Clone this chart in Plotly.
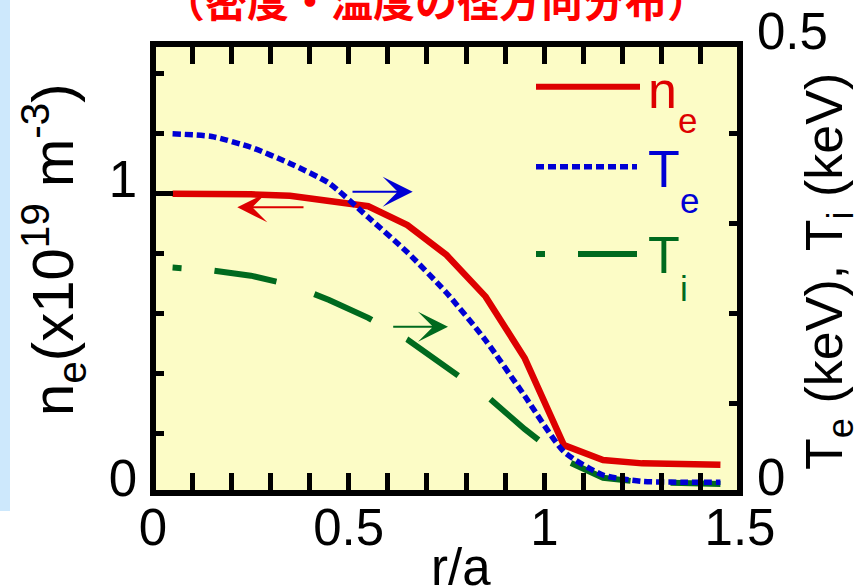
import plotly.graph_objects as go

# Radial profiles (r/a) of electron density and temperatures
r_a = [0.05, 0.15, 0.25, 0.35, 0.45, 0.55, 0.65, 0.75, 0.85, 0.95, 1.05, 1.15, 1.25, 1.35, 1.45]
n_e = [1.000, 1.000, 0.998, 0.993, 0.978, 0.958, 0.895, 0.795, 0.656, 0.450, 0.160, 0.110, 0.099, 0.096, 0.094]
T_e = [0.400, 0.397, 0.385, 0.367, 0.345, 0.307, 0.268, 0.223, 0.170, 0.108, 0.046, 0.020, 0.013, 0.012, 0.012]
T_i = [0.251, 0.248, 0.242, 0.232, 0.215, 0.195, 0.171, 0.141, 0.109, 0.071, 0.037, 0.017, 0.012, 0.011, 0.010]

T_ticks = [0, 0.5]
T_tick_text = ["0", "0.5"]

RED = "#dd0000"
BLUE = "#0000d4"
GREEN = "#006a1e"
BG = "#fcfcc6"
FONT = "Liberation Sans, Arial, sans-serif"
TI_DASH = "9px,33px" + ",63px,40px" * 8
TE_DASH = "8px,4px"

W, H = 868, 587
L, R, T, B = 153, 128, 44, 94


def px(xp):
    return (xp - L) / (W - L - R)


def py(yp):
    return (H - B - yp) / (H - T - B)


fig = go.Figure()
fig.add_trace(go.Scatter(x=r_a, y=n_e, mode="lines", yaxis="y",
                         line=dict(color=RED, width=6.5)))
fig.add_trace(go.Scatter(x=r_a, y=T_i, mode="lines", yaxis="y2",
                         line=dict(color=GREEN, width=6, dash=TI_DASH)))
fig.add_trace(go.Scatter(x=r_a, y=T_e, mode="lines", yaxis="y2",
                         line=dict(color=BLUE, width=5.5, dash=TE_DASH, shape="spline", smoothing=0.6)))

tickfont = dict(family=FONT, size=51, color="black")
minor_common = dict(ticks="inside", ticklen=11, tickwidth=5, tickcolor="black", showgrid=False)

shapes = [
    # frame
    dict(type="rect", xref="paper", yref="paper", x0=0, x1=1, y0=0, y1=1,
         line=dict(color="black", width=6), layer="above"),
    # left edge strip
    dict(type="rect", xref="paper", yref="paper", x0=px(0), x1=px(10), y0=py(0), y1=py(511),
         line=dict(width=0), fillcolor="#cde8fc", layer="below"),
    # legend samples
    dict(type="line", xref="paper", yref="paper", x0=px(536), x1=px(640), y0=py(86.7), y1=py(86.7),
         line=dict(color=RED, width=6)),
    dict(type="line", xref="paper", yref="paper", x0=px(536), x1=px(637), y0=py(166.7), y1=py(166.7),
         line=dict(color=BLUE, width=5.5, dash=TE_DASH)),
    dict(type="line", xref="paper", yref="paper", x0=px(536), x1=px(637), y0=py(254), y1=py(254),
         line=dict(color=GREEN, width=6, dash=TI_DASH)),
]


def label(text, x, y, size, color, xanchor="left", yanchor="middle", angle=0, bold=False):
    t = f"<b>{text}</b>" if bold else text
    return dict(text=t, xref="paper", yref="paper", x=x, y=y, xanchor=xanchor, yanchor=yanchor,
                showarrow=False, textangle=angle,
                font=dict(family=FONT, size=size, color=color))


annotations = [
    # legend labels
    label("n", px(646), py(90), 52, RED),
    label("e", px(675.6), py(120.9), 35, RED),
    label("T", px(646), py(169.3), 52, BLUE),
    label("e", px(678.3), py(200.9), 35, BLUE),
    label("T", px(646), py(255.3), 52, GREEN),
    label("i", px(678.4), py(288.6), 35, GREEN),
    # axis titles
    label("n<sub>e</sub>(x10<sup>19</sup> m<sup>-3</sup>)", px(54), py(250), 58, "black",
          xanchor="center", angle=-90),
    label("T<sub>e</sub> (keV), T<sub>i</sub> (keV)", px(793), py(272), 52, "black",
          xanchor="left", angle=-90),
    label("r/a", px(461), py(567.3), 51, "black", xanchor="center"),
    # top label of the temperature axis, raised above the frame corner
    dict(text=T_tick_text[-1], xref="paper", yref="y2", x=px(755), y=T_ticks[-1], yshift=13,
         xanchor="left", yanchor="middle", showarrow=False, font=tickfont),
]

title_ann = label("（密度・温度の径方向分布）", px(436), py(-2), 42, "#ff0000", xanchor="center", bold=True)
title_ann["font"]["family"] = "Noto Sans CJK JP"
annotations.append(title_ann)

# direction arrows pointing to the axis each curve uses
for tip_x, tail_x, yy, col in [(237.3, 305, 207.3, RED), (412.7, 351, 191.7, BLUE), (448, 391.7, 326.7, GREEN)]:
    annotations.append(dict(x=px(tip_x), y=py(yy), xref="paper", yref="paper",
                            ax=tail_x - tip_x, ay=0, axref="pixel", ayref="pixel",
                            text="", showarrow=True, arrowhead=3, arrowsize=2.5, arrowwidth=2,
                            arrowcolor=col, standoff=0))

fig.update_layout(
    width=W, height=H,
    margin=dict(l=L, r=R, t=T, b=B, pad=0, autoexpand=False),
    paper_bgcolor="white", plot_bgcolor=BG,
    showlegend=False,
    xaxis=dict(range=[0, 1.5], tickmode="linear", tick0=0, dtick=0.5,
               ticks="inside", ticklen=20, tickwidth=5, tickcolor="black",
               mirror="allticks", showline=False, showgrid=False, zeroline=False,
               tickfont=tickfont, automargin=False,
               minor=dict(dtick=0.1, **minor_common)),
    yaxis=dict(range=[0, 1.5], tickmode="linear", tick0=0, dtick=1,
               ticks="inside", ticklen=20, tickwidth=5, tickcolor="black",
               showline=False, showgrid=False, zeroline=False,
               tickfont=tickfont, ticklabelstandoff=15, ticklabelshift=-15, automargin=False,
               minor=dict(dtick=0.2, **minor_common)),
    yaxis2=dict(range=[0, 0.5], overlaying="y", side="right",
                tickmode="array", tickvals=T_ticks, ticktext=[T_tick_text[0], ""],
                ticks="inside", ticklen=20, tickwidth=5, tickcolor="black",
                showline=False, showgrid=False, zeroline=False,
                tickfont=tickfont, ticklabelstandoff=16, ticklabelshift=-16, automargin=False,
                minor=dict(dtick=0.1, **minor_common)),
    shapes=shapes,
    annotations=annotations,
)

fig.write_html("out.html")
